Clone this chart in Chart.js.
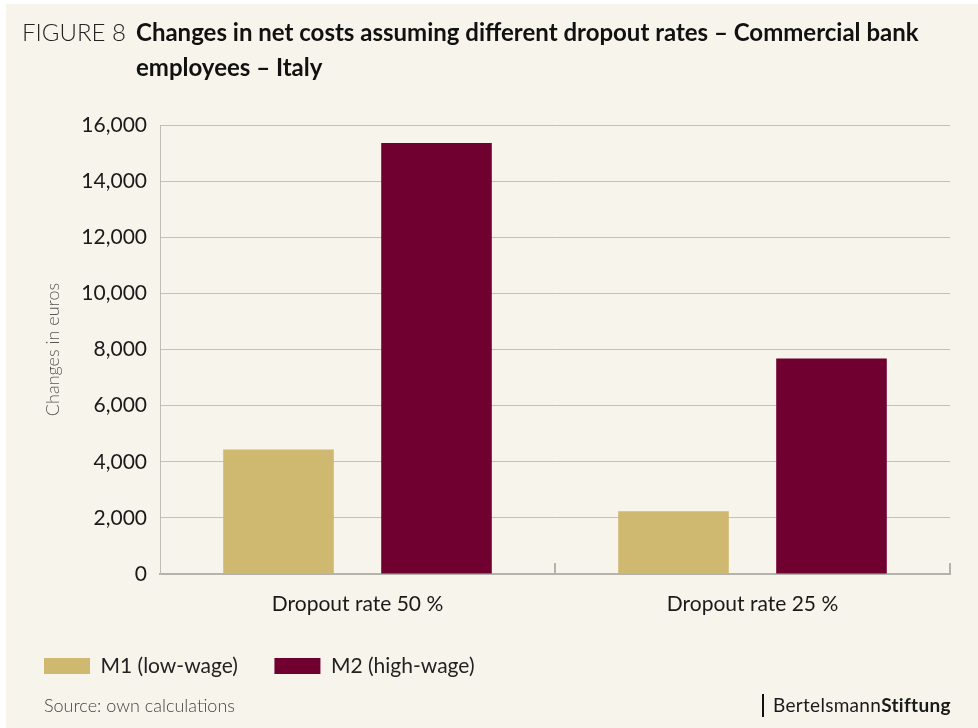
<!DOCTYPE html>
<html>
<head>
<meta charset="utf-8">
<script src="https://cdn.jsdelivr.net/npm/chart.js@4/dist/chart.umd.min.js"></script>
<style>
  html, body { margin:0; padding:0; background:#ffffff; }
  #page { position:absolute; left:6px; top:4px; width:972px; height:724px; background:#f7f4ec; }
  #wrap { position:absolute; left:0; top:0; width:978px; height:728px; }
  .txt { position:absolute; font-family:'Lato', sans-serif; white-space:nowrap; }
  #fig { left:22px; top:14px; font-size:24px; line-height:35px; font-weight:300; color:#222; }
  #title { left:136px; top:14px; font-size:24px; line-height:35px; font-weight:700; color:#111; white-space:normal; width:810px; }
  #source { left:44px; top:694px; font-size:18px; line-height:22px; font-weight:300; color:#444; }
  #logobar { position:absolute; left:762px; top:694px; width:2px; height:23px; background:#111; }
  #logo { left:773px; top:693px; font-size:19px; line-height:24px; color:#1a1a1a; letter-spacing:0.3px; }
</style>
</head>
<body>
<div id="page"></div>
<div id="wrap"><canvas id="c" width="978" height="728"></canvas></div>
<div class="txt" id="fig">FIGURE 8</div>
<div class="txt" id="title">Changes in net costs assuming different dropout rates – Commercial bank employees – Italy</div>
<div class="txt" id="source">Source: own calculations</div>
<div id="logobar"></div>
<div class="txt" id="logo">Bertelsmann<b>Stiftung</b></div>
<script>
const categories = ['Dropout rate 50 %', 'Dropout rate 25 %'];
const seriesNames = ['M1 (low-wage)', 'M2 (high-wage)'];
const m1Values = [4440, 2240];
const m2Values = [15360, 7680];
const yTicksMax = 16000;
const yTickStep = 2000;

const colors = ['#cfb870', '#6f0030'];

const catTicks = {
  id: 'catTicks',
  afterDraw(chart) {
    const x = chart.scales.x, y = chart.scales.y;
    const ctx = chart.ctx;
    const n = categories.length;
    const w = x.getPixelForValue(1) - x.getPixelForValue(0);
    ctx.save();
    ctx.strokeStyle = '#b3b2ad';
    ctx.lineWidth = 2;
    for (let i = 0; i < n; i++) {
      const px = Math.round(x.getPixelForValue(i) + w / 2);
      const py = y.getPixelForValue(0);
      ctx.beginPath();
      ctx.moveTo(px, py);
      ctx.lineTo(px, py - 11);
      ctx.stroke();
    }
    ctx.restore();
  }
};

new Chart(document.getElementById('c'), {
  type: 'bar',
  data: {
    labels: categories,
    datasets: [
      { label: seriesNames[0], data: m1Values, backgroundColor: colors[0], borderWidth: 0 },
      { label: seriesNames[1], data: m2Values, backgroundColor: colors[1], borderWidth: 0 }
    ]
  },
  options: {
    responsive: false,
    animation: false,
    datasets: { bar: { barPercentage: 0.7, categoryPercentage: 0.8 } },
    layout: { padding: { left: 7.5, right: 28, top: 125, bottom: 41.5 } },
    plugins: {
      tooltip: { enabled: false },
      legend: {
        position: 'bottom',
        align: 'start',
        labels: {
          boxWidth: 46, boxHeight: 16, padding: 36.5,
          color: '#222',
          font: { family: 'Lato', size: 21 }
        }
      }
    },
    scales: {
      x: {
        grid: { display: false },
        border: { display: true, color: '#b3b2ad', width: 2 },
        ticks: { color: '#1a1a1a', padding: 10, font: { family: 'Lato', size: 21 } },
        afterFit: s => { s.height = 45; }
      },
      y: {
        min: 0, max: yTicksMax,
        grid: { color: '#c2c0bb', drawTicks: false, lineWidth: 1 },
        border: { display: true, color: '#bdbcb7', width: 1 },
        ticks: {
          stepSize: yTickStep, padding: 13, color: '#1a1a1a',
          font: { family: 'Lato', size: 21 },
          callback: v => v.toLocaleString('en-US')
        },
        title: {
          display: true, text: 'Changes in euros', color: '#555',
          font: { family: 'Lato', size: 18, weight: 300 },
          padding: { top: 34.5, bottom: 0 }
        },
        afterFit: s => { s.width = 152.5; }
      }
    }
  },
  plugins: [catTicks]
});
</script>
</body>
</html>
